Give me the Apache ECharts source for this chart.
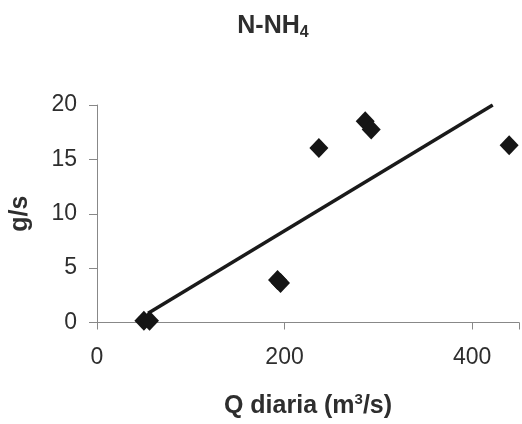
<!DOCTYPE html>
<html>
<head>
<meta charset="utf-8">
<script src="https://cdn.jsdelivr.net/npm/echarts@6/dist/echarts.min.js"></script>
<style>
  html, body { margin: 0; padding: 0; background: #fff; }
  #chart { width: 522px; height: 424px; }
</style>
</head>
<body>
<div id="chart"></div>
<script>
// Daily discharge (m3/s) against N-NH4 load (g/s)
const flowQ = [50, 56, 192.5, 195.7, 236.6, 286, 292.4, 439.5];
const loadNH4 = [0.15, 0.15, 3.9, 3.63, 16.05, 18.5, 17.75, 16.3];

// Linear trend line endpoints
const trendQ = [54.5, 422];
const trendLoad = [0.86, 20];

const xTicks = [0, 200, 400];
const yTicks = [0, 5, 10, 15, 20];

const FONT = 'Liberation Sans, Arial, sans-serif';
const TEXT = '#2e2e2e';
const AXIS = '#888';

const chart = echarts.init(document.getElementById('chart'), null, { renderer: 'canvas' });

chart.setOption({
  backgroundColor: '#fff',
  animation: false,
  title: {
    text: 'N-NH{sub|4}',
    left: 268,
    top: 7,
    textAlign: 'center',
    textStyle: {
      fontFamily: FONT,
      fontSize: 25,
      fontWeight: 'bold',
      color: TEXT,
      rich: {
        sub: { fontFamily: FONT, fontSize: 16, fontWeight: 'bold', color: TEXT, padding: [13, 0, 0, 0] }
      }
    }
  },
  grid: { left: 95, top: 105, width: 427, height: 218 },
  xAxis: {
    type: 'value',
    min: 0,
    max: 450,
    interval: 200,
    name: 'Q diaria (m{sup|3}/s)',
    nameLocation: 'middle',
    nameGap: 70,
    nameTextStyle: {
      fontFamily: FONT, fontSize: 25, fontWeight: 'bold', color: TEXT,
      rich: {
        sup: { fontFamily: FONT, fontSize: 15, fontWeight: 'bold', color: TEXT, padding: [0, 0, 13, 0] }
      }
    },
    axisLine: { show: true, lineStyle: { color: AXIS, width: 1 } },
    axisTick: { show: true, inside: false, length: 7, lineStyle: { color: AXIS } },
    axisLabel: {
      fontFamily: FONT, fontSize: 23, color: TEXT, margin: 24,
      formatter: v => (xTicks.indexOf(v) >= 0 ? String(v) : '')
    },
    splitLine: { show: false }
  },
  yAxis: {
    type: 'value',
    min: 0,
    max: 20,
    interval: 5,
    name: 'g/s',
    nameLocation: 'middle',
    nameGap: 64,
    nameTextStyle: { fontFamily: FONT, fontSize: 25, fontWeight: 'bold', color: TEXT },
    axisLine: { show: true, lineStyle: { color: AXIS, width: 1 } },
    axisTick: { show: true, inside: false, length: 8, lineStyle: { color: AXIS } },
    axisLabel: {
      fontFamily: FONT, fontSize: 23, color: TEXT, margin: 20,
      formatter: v => (yTicks.indexOf(v) >= 0 ? String(v) : '')
    },
    splitLine: { show: false }
  },
  series: [
    {
      type: 'line',
      data: trendQ.map((q, i) => [q, trendLoad[i]]),
      symbol: 'none',
      lineStyle: { color: '#1a1a1a', width: 3.5 },
      clip: true,
      z: 2
    },
    {
      type: 'scatter',
      data: flowQ.map((q, i) => [q, loadNH4[i]]),
      symbol: 'diamond',
      symbolSize: [19, 20],
      itemStyle: { color: '#151515', opacity: 1 },
      z: 3
    }
  ]
});
</script>
</body>
</html>
